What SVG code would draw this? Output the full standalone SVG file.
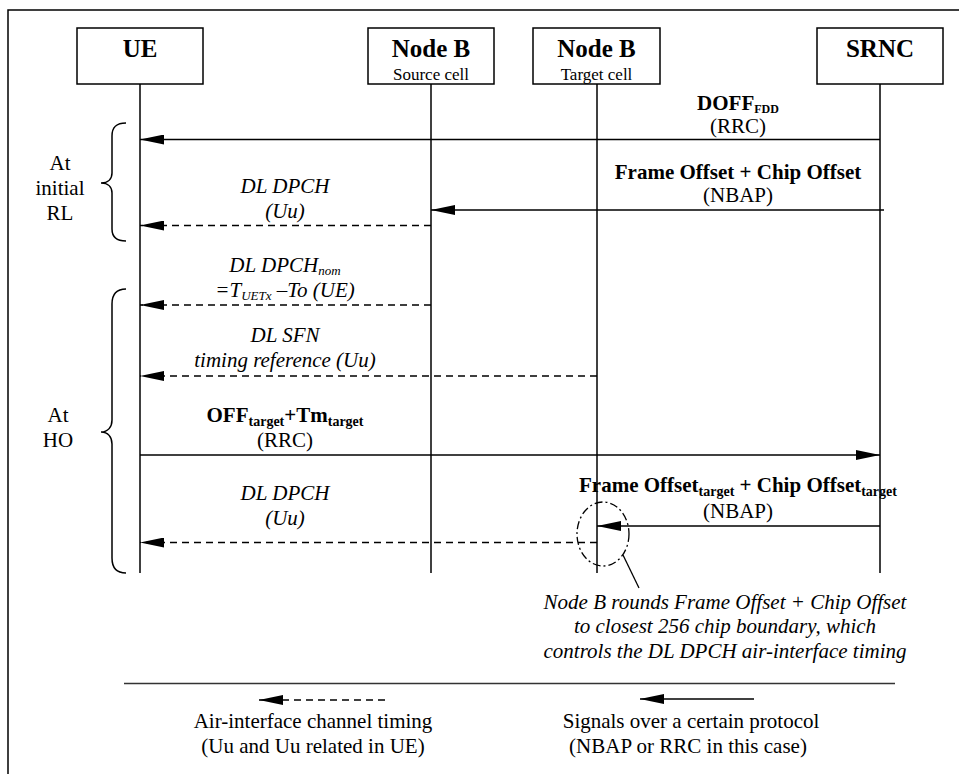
<svg xmlns="http://www.w3.org/2000/svg" width="959" height="774" viewBox="0 0 959 774">
<style>
  text { font-family: "Liberation Serif", "DejaVu Serif", serif; fill: #000; }
  .title { font-size: 25px; font-weight: bold; text-anchor: middle; }
  .sub { font-size: 17px; text-anchor: middle; }
  .lbl { font-size: 21px; text-anchor: middle; }
  .b { font-weight: bold; }
  .i { font-style: italic; }
  .box { fill: #fff; stroke: #000; stroke-width: 1.5; }
  .life { stroke: #000; stroke-width: 1.5; fill: none; }
  .msg { stroke: #000; stroke-width: 1.5; fill: none; marker-end: url(#ah); }
  .dash { stroke-dasharray: 7 5; }
  .brace { stroke: #000; stroke-width: 1.5; fill: none; }
</style>
<defs>
  <marker id="ah" markerUnits="userSpaceOnUse" markerWidth="24" markerHeight="10" refX="24" refY="5" orient="auto">
    <path d="M0,0 L24,5 L0,10 Z" fill="#000" stroke="none"/>
  </marker>
</defs>
<rect width="959" height="774" fill="#fff"/>
<!-- frame -->
<path d="M8,774 L8,10 L959,10" fill="none" stroke="#000" stroke-width="1.5"/>

<g id="ue">
  <rect class="box" x="77" y="28" width="126" height="56"/>
  <text class="title" x="140" y="57">UE</text>
  <line class="life" x1="140" y1="84" x2="140" y2="573"/>
</g>
<g id="nodeb-source">
  <rect class="box" x="368" y="28" width="126" height="56"/>
  <text class="title" x="431" y="57">Node B</text>
  <text class="sub" x="431" y="80">Source cell</text>
  <line class="life" x1="431" y1="84" x2="431" y2="573"/>
</g>
<g id="nodeb-target">
  <rect class="box" x="533" y="28" width="127" height="56"/>
  <text class="title" x="596.5" y="57">Node B</text>
  <text class="sub" x="596.5" y="80">Target cell</text>
  <line class="life" x1="597" y1="84" x2="597" y2="573"/>
</g>
<g id="srnc">
  <rect class="box" x="817" y="28" width="126" height="56"/>
  <text class="title" x="880" y="57">SRNC</text>
  <line class="life" x1="880" y1="84" x2="880" y2="573"/>
</g>

<g id="braces">
  <path class="brace" d="M126,123 C116,123 112,127 112,136 L112,173 C112,179 108,183 101,183 C108,183 112,187 112,193 L112,229 C112,237 116,241 126,241"/>
  <text class="lbl" x="60" y="170">At</text>
  <text class="lbl" x="60" y="195">initial</text>
  <text class="lbl" x="60" y="220">RL</text>
  <path class="brace" d="M126,289 C116,289 112,294 112,304 L112,420 C112,427 108,432 101,432 C108,432 112,437 112,444 L112,558 C112,568 116,573 126,573"/>
  <text class="lbl" x="58" y="422">At</text>
  <text class="lbl" x="58" y="447">HO</text>
</g>

<g id="connectors">
  <line class="msg" x1="880" y1="139.5" x2="140" y2="139.5"/>
  <line class="msg" x1="884" y1="210" x2="431" y2="210"/>
  <line class="msg dash" x1="431" y1="225.5" x2="140" y2="225.5"/>
  <line class="msg dash" x1="431" y1="305" x2="140" y2="305"/>
  <line class="msg dash" x1="597" y1="376" x2="140" y2="376"/>
  <line class="msg" x1="140" y1="455" x2="880" y2="455"/>
  <line class="msg" x1="880" y1="526" x2="597" y2="526"/>
  <line class="msg dash" x1="597" y1="542.5" x2="140" y2="542.5"/>
</g>

<g id="labels">
  <text class="lbl b" x="738" y="110">DOFF<tspan font-size="12" dy="3">FDD</tspan></text>
  <text class="lbl" x="738" y="133">(RRC)</text>
  <text class="lbl b" x="738" y="179">Frame Offset + Chip Offset</text>
  <text class="lbl" x="738" y="202">(NBAP)</text>
  <text class="lbl i" x="285" y="193">DL DPCH</text>
  <text class="lbl i" x="285" y="218">(Uu)</text>
  <text class="lbl i" x="285" y="272">DL DPCH<tspan font-size="13" dy="3">nom</tspan></text>
  <text class="lbl i" x="285" y="297">=T<tspan font-size="13" dy="3">UETx</tspan><tspan dy="-3"> –To (UE)</tspan></text>
  <text class="lbl i" x="285" y="342">DL SFN</text>
  <text class="lbl i" x="285" y="367">timing reference (Uu)</text>
  <text class="lbl b" x="285" y="422">OFF<tspan font-size="14" dy="4">target</tspan><tspan dy="-4">+Tm</tspan><tspan font-size="14" dy="4">target</tspan></text>
  <text class="lbl" x="285" y="447">(RRC)</text>
  <text class="lbl b" x="738" y="492">Frame Offset<tspan font-size="14" dy="4">target</tspan><tspan dy="-4"> + Chip Offset</tspan><tspan font-size="14" dy="4">target</tspan></text>
  <text class="lbl" x="738" y="518">(NBAP)</text>
  <text class="lbl i" x="285" y="500">DL DPCH</text>
  <text class="lbl i" x="285" y="525">(Uu)</text>
</g>

<g id="note">
  <ellipse cx="603" cy="534" rx="26" ry="32" fill="none" stroke="#000" stroke-width="1.3" stroke-dasharray="8 3 2 3"/>
  <line x1="623" y1="555" x2="639" y2="588" stroke="#000" stroke-width="1.3"/>
  <text class="lbl i" x="725" y="609">Node B rounds Frame Offset + Chip Offset</text>
  <text class="lbl i" x="725" y="633">to closest 256 chip boundary, which</text>
  <text class="lbl i" x="725" y="658">controls the DL DPCH air-interface timing</text>
</g>

<g id="legend">
  <line x1="124" y1="683.5" x2="895" y2="683.5" stroke="#333" stroke-width="1.5"/>
  <line class="msg dash" x1="385" y1="700" x2="259" y2="700"/>
  <line class="msg" x1="754" y1="699" x2="640" y2="699"/>
  <text class="lbl" x="313" y="728">Air-interface channel timing</text>
  <text class="lbl" x="313" y="753">(Uu and Uu related in UE)</text>
  <text class="lbl" x="691" y="728">Signals over a certain protocol</text>
  <text class="lbl" x="688" y="753">(NBAP or RRC in this case)</text>
</g>
</svg>
